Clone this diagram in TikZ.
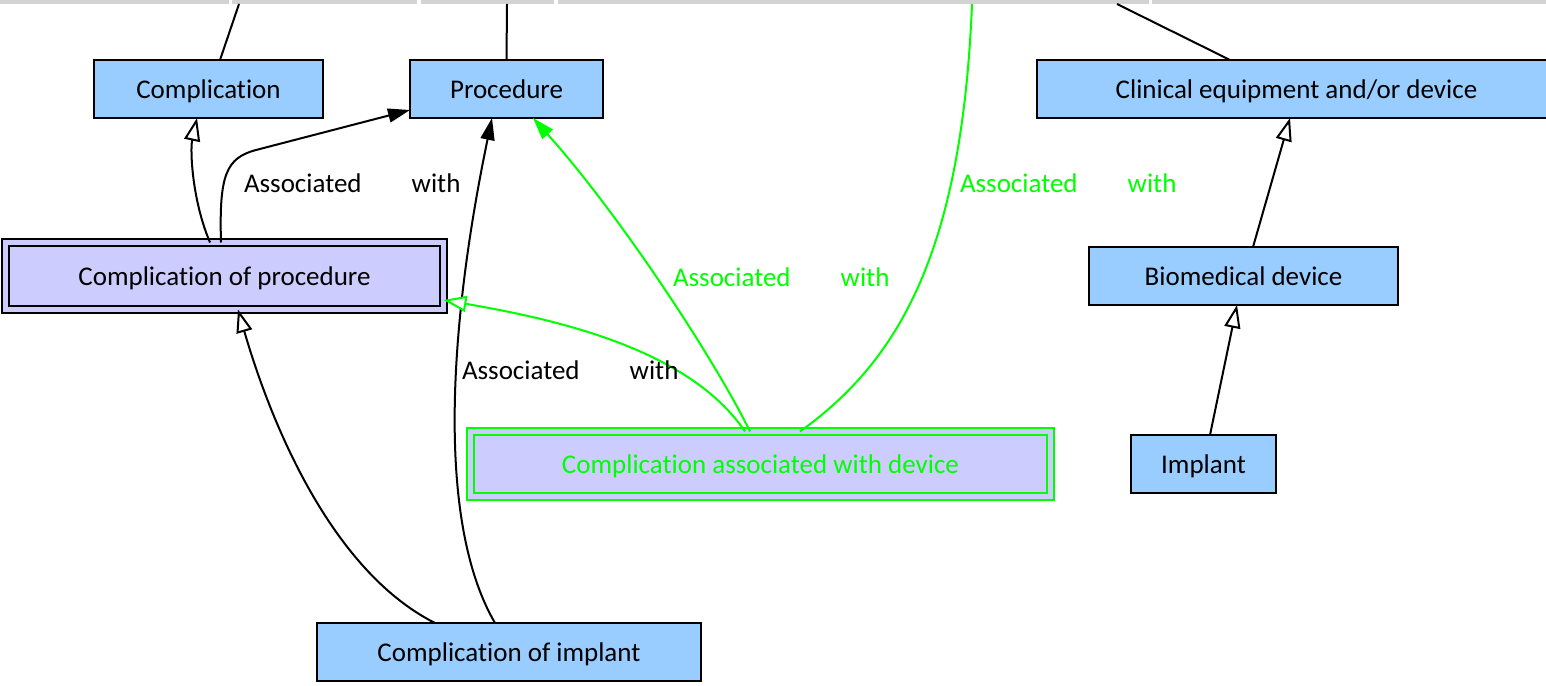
\documentclass[tikz,border=0pt]{standalone}
\usepackage{fontspec}
\setmainfont{Carlito}[Ligatures=NoCommon]
\usetikzlibrary{arrows.meta}
\definecolor{nodeblue}{HTML}{99CCFF}
\definecolor{nodelav}{HTML}{CCCCFF}
\definecolor{linkgreen}{HTML}{00FF00}
\definecolor{bargray}{HTML}{D3D3D3}
\begin{document}
\begin{tikzpicture}[x=1pt,y=-1pt,line width=2pt,
  font=\fontsize{27pt}{32pt}\selectfont,
  box/.style={draw=black,fill=nodeblue,minimum height=58pt,inner sep=0pt,outer sep=0pt,line width=2pt,text depth=2pt,text height=20pt},
  dbox/.style={draw=black,fill=nodelav,double=nodelav,double distance=5pt,line width=2pt,minimum height=67pt,inner sep=0pt,outer sep=0pt,text depth=2pt,text height=20pt},
  gbox/.style={dbox,draw=linkgreen,text=linkgreen,minimum height=65pt},
  lbl/.style={inner sep=0pt,outer sep=0pt,anchor=west},
  filla/.style={-{Triangle[length=22pt,width=14pt]}},
  opena/.style={-{Triangle[length=23pt,width=16pt,fill=white]}}]
\useasboundingbox (0,0) rectangle (1546,685);
% cut-off bars at the top
\fill[bargray] (-10,-30) rectangle (229,4);
\fill[bargray] (232,-30) rectangle (417,4);
\fill[bargray] (421,-30) rectangle (554,4);
\fill[bargray] (558,-30) rectangle (1149,4);
\fill[bargray] (1152,-30) rectangle (1560,4);
% nodes
\node[box,minimum width=229pt] (comp) at (208.5,89) {Complication};
\node[box,minimum width=193pt] (proc) at (506.5,89) {Procedure};
\node[box,minimum width=519pt] (clin) at (1296.5,89) {Clinical equipment and/or device};
\node[dbox,minimum width=438pt] (cop) at (224.5,276) {Complication of procedure};
\node[box,minimum width=309pt] (bio) at (1243.5,276) {Biomedical device};
\node[gbox,minimum width=580pt] (cawd) at (760.5,464) {Complication associated with device};
\node[box,minimum width=145pt] (impl) at (1203.5,464) {Implant};
\node[box,minimum width=384pt] (coi) at (509,652) {Complication of implant};
% free ends at the top
\coordinate (t1) at (239,4);
\coordinate (t2) at (507,4);
\coordinate (t3) at (1117,4);
\coordinate (t4) at (972,4);
% connectors
\draw (t1) -- ([xshift=11.5pt]comp.north);
\draw (t2) -- (proc.north);
\draw (t3) -- ([xshift=-66.5pt]clin.north);
\draw[linkgreen] (t4) .. controls (962,250) and (900,360) .. ([xshift=39.5pt]cawd.north);
\draw[opena] ([xshift=-14.5pt]cop.north) .. controls (192,200) and (190,150) .. ([xshift=-11.5pt]comp.south);
\draw[filla] ([xshift=-3.5pt]cop.north) .. controls (219,175) and (226,158) .. (256,150) -- ([yshift=-21pt]proc.west);
\draw[opena] ([xshift=-74pt]coi.north) .. controls (330,570) and (270,420) .. ([xshift=13.5pt]cop.south);
\draw[filla] ([xshift=-14pt]coi.north) .. controls (435,520) and (450,320) .. ([xshift=-14.5pt]proc.south);
\draw[opena,draw=linkgreen] ([xshift=-15.5pt]cawd.north) .. controls (690,350) and (560,320) .. ([yshift=-24pt]cop.east);
\draw[filla,draw=linkgreen] ([xshift=-10.5pt]cawd.north) .. controls (715,360) and (620,215) .. ([xshift=26.5pt]proc.south);
\draw[opena] ([xshift=9.5pt]bio.north) -- ([xshift=-6.5pt]clin.south);
\draw[opena] ([xshift=6.5pt]impl.north) -- ([xshift=-6.5pt]bio.south);
% edge labels
\node[lbl] (l1) at (244,183) {Associated \hspace{44pt}with};
\node[lbl,text=linkgreen] (l2) at (673,277) {Associated \hspace{44pt}with};
\node[lbl,text=linkgreen] (l3) at (960,183) {Associated \hspace{44pt}with};
\node[lbl] (l4) at (462,370) {Associated \hspace{44pt}with};
\end{tikzpicture}
\end{document}
